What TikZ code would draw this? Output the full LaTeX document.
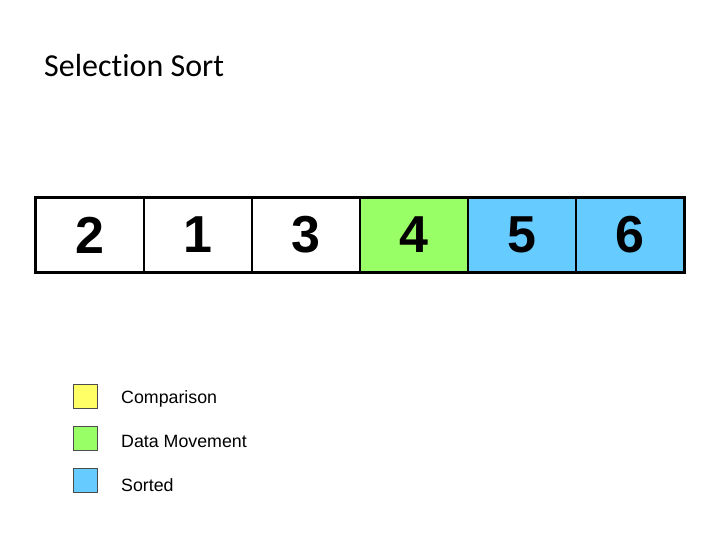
\documentclass[tikz,border=0pt]{standalone}
\usepackage{fontspec}
\setmainfont{Liberation Sans}
\newfontfamily\titlefont[Ligatures=NoCommon]{Carlito}
\definecolor{movegreen}{HTML}{99FF66}
\definecolor{sortblue}{HTML}{66CCFF}
\definecolor{cmpyellow}{HTML}{FFFF66}
\begin{document}
\begin{tikzpicture}[x=1pt,y=-1pt,
  cell/.style={draw=black,line width=1.5pt,minimum width=108pt,minimum height=73pt,inner sep=0pt,
    font=\fontsize{52}{52}\selectfont\bfseries},
  legbox/.style={draw=black!70,line width=0.6pt,minimum width=24pt,minimum height=24pt,inner sep=0pt},
  legtext/.style={anchor=west,font=\fontsize{17.8}{19}\selectfont,inner sep=0pt}]
\useasboundingbox (0,0) rectangle (720,540);
\node[anchor=base west,inner sep=0pt,font=\titlefont\fontsize{32}{34}\selectfont] (title) at (44,77) {Selection Sort};
\node[cell,fill=white] (c1) at (90,235) {2};
\node[cell,fill=white] (c2) at (198,235) {1};
\node[cell,fill=white] (c3) at (306,235) {3};
\node[cell,fill=movegreen] (c4) at (414,235) {4};
\node[cell,fill=sortblue] (c5) at (522,235) {5};
\node[cell,fill=sortblue] (c6) at (630,235) {6};
\draw[line width=3pt] (c1.north west) rectangle (c6.south east);
\node[legbox,fill=cmpyellow] (l1) at (85,396.5) {};
\node[legbox,fill=movegreen] (l2) at (85,438.5) {};
\node[legbox,fill=sortblue] (l3) at (85,480.5) {};
\node[legtext] (t1) at (121,399) {Comparison};
\node[legtext] (t2) at (121,441) {Data Movement};
\node[legtext] (t3) at (121,485) {Sorted};
\end{tikzpicture}
\end{document}
